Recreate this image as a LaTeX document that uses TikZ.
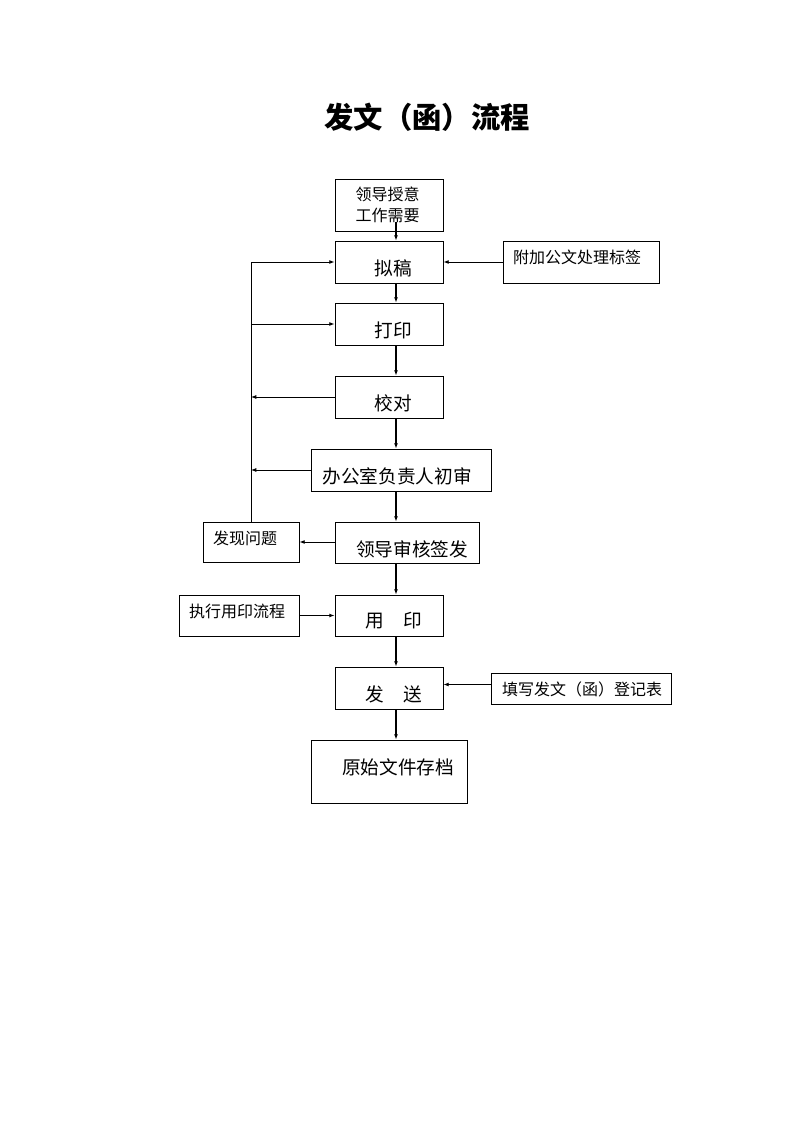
\documentclass[tikz,border=0pt]{standalone}
\usepackage{fontspec}
\newfontfamily\cjk{Noto Sans CJK SC}
\usetikzlibrary{arrows.meta, positioning, fit}

\begin{document}
\begin{tikzpicture}[x=0.75pt, y=-0.75pt, >={Latex[length=4pt,width=3pt]},
  box/.style={draw, line width=0.6pt, inner sep=0pt},
  big/.style={font=\cjk\fontsize{14}{16}\selectfont},
  small/.style={font=\cjk\fontsize{12}{16}\selectfont},
  main/.style={->, line width=1.4pt},
  side/.style={->, line width=0.7pt}]
\useasboundingbox (0,0) rectangle (794,1123);
% title
\node[font=\cjk\bfseries\fontsize{22}{26}\selectfont] (title) at (427,117) {发文（函）流程};
% boxes of the main chain
\node[box, fit={(335,179) (443,231)}] (ask) {};
\node[box, fit={(335,241) (443,283)}] (draft) {};
\node[box, fit={(335,303) (443,345)}] (print) {};
\node[box, fit={(335,376) (443,418)}] (check) {};
\node[box, fit={(311,449) (491,491)}] (office) {};
\node[box, fit={(335,522) (479,563)}] (sign) {};
\node[box, fit={(335,595) (443,636)}] (seal) {};
\node[box, fit={(335,667) (443,709)}] (send) {};
\node[box, fit={(311,740) (467,803)}] (archive) {};
% side boxes
\node[box, fit={(503,241) (659,283)}] (tag) {};
\node[box, fit={(203,522) (299,562)}] (issue) {};
\node[box, fit={(179,595) (299,636)}] (sealflow) {};
\node[box, fit={(491,673) (671,704)}] (register) {};
% texts
\node[small, align=left, anchor=west] (askt) at (351,205) {领导授意\\工作需要};
\node[big] (draftt) at (393,268) {拟稿};
\node[big] (printt) at (393,330) {打印};
\node[big] (checkt) at (393,403) {校对};
\node[big] (officet) at (397,476) {办公室负责人初审};
\node[big] (signt) at (412,549) {领导审核签发};
\node[big] (sealt) at (394,621) {用\hspace{1.05em}印};
\node[big] (sendt) at (394,694) {发\hspace{1.05em}送};
\node[big] (archivet) at (398,767) {原始文件存档};
\node[small] (tagt) at (577,257) {附加公文处理标签};
\node[small] (issuet) at (245,538) {发现问题};
\node[small] (sealflowt) at (237,611) {执行用印流程};
\node[small] (registert) at (582,689) {填写发文（函）登记表};
% main chain, slightly right of the box centres
\coordinate (spine) at (396,0);
\draw[main] ([yshift=7pt]ask.south -| spine) -- (draft.north -| spine);
\draw[main] (draft.south -| spine) -- (print.north -| spine);
\draw[main] (print.south -| spine) -- (check.north -| spine);
\draw[main] (check.south -| spine) -- (office.north -| spine);
\draw[main] (office.south -| spine) -- (sign.north -| spine);
\draw[main] (sign.south -| spine) -- (seal.north -| spine);
\draw[main] (seal.south -| spine) -- (send.north -| spine);
\draw[main] (send.south -| spine) -- (archive.north -| spine);
% feedback bus on the left
\draw[side] (issue.north) |- (draft.west);
\draw[side] (issue.north) |- (print.west);
\draw[side] (check.west) -- (check.west -| issue.north);
\draw[side] (office.west) -- (office.west -| issue.north);
\draw[side] (sign.west |- issue.east) -- (issue.east);
% side inputs
\draw[side] (tag.west) -- (draft.east);
\draw[main] (sealflow.east) -- (seal.west);
\draw[side] ([yshift=3pt]register.west) -- ([yshift=3pt]register.west -| send.east);
\end{tikzpicture}
\end{document}
